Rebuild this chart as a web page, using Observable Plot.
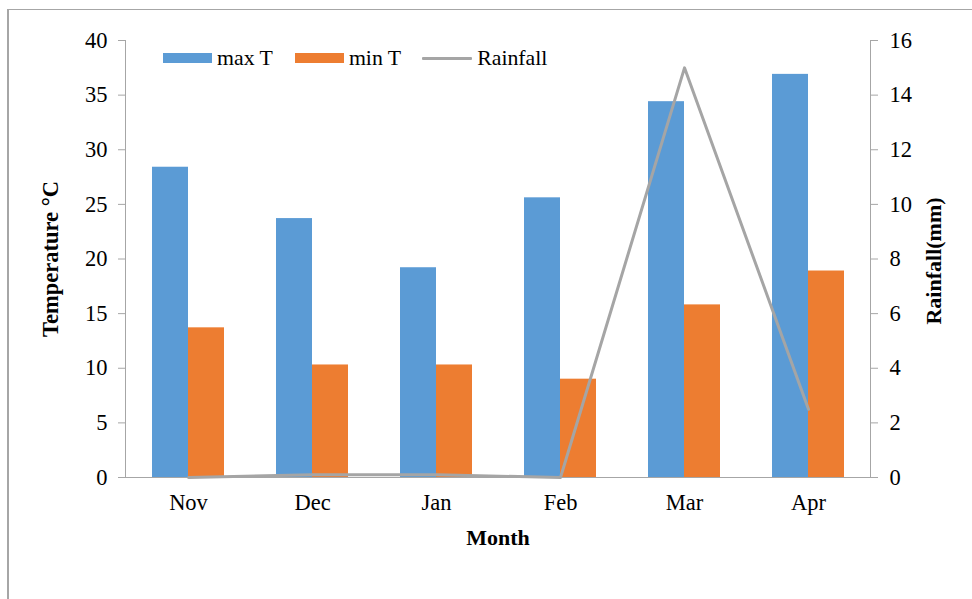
<!DOCTYPE html>
<html>
<head>
<meta charset="utf-8">
<script src="https://cdn.jsdelivr.net/npm/d3@7"></script>
<script src="https://cdn.jsdelivr.net/npm/@observablehq/plot@0.6"></script>
<style>
  body { margin: 0; background: #fff; }
  #wrap { position: relative; width: 972px; height: 599px; overflow: hidden; font-family: "Liberation Serif", "Times New Roman", serif; }
  #frame { position: absolute; left: 7px; top: 9px; width: 980px; height: 600px; border-top: 1px solid #a6a6a6; border-left: 2px solid #a6a6a6; pointer-events: none; }
  #legend { position: absolute; left: 163px; top: 46px; height: 24px; line-height: 24px; display: flex; align-items: center; font-size: 21.8px; color: #000; }
  .item { display: flex; align-items: center; }
  .sw { width: 49px; height: 10px; margin-right: 5px; }
  .ln { width: 50px; height: 3px; margin-right: 5px; border-radius: 1px; }
</style>
</head>
<body>
<div id="wrap">
  <div id="chart"></div>
  <div id="frame"></div>
  <div id="legend"></div>
</div>
<script>
const months = ["Nov", "Dec", "Jan", "Feb", "Mar", "Apr"];
const maxT = [28.4, 23.7, 19.2, 25.6, 34.4, 36.9];
const minT = [13.7, 10.3, 10.3, 9.0, 15.8, 18.9];
const rainfall = [0.0, 0.1, 0.1, 0.0, 15.0, 2.5];
const tempTicks = [0, 5, 10, 15, 20, 25, 30, 35, 40];
const rainTicks = [0, 2, 4, 6, 8, 10, 12, 14, 16];

const colors = { max: "#5B9BD5", min: "#ED7D31", rain: "#A5A5A5" };
const ratio = 40 / 16; // temperature units per mm

const data = months.map((m, i) => ({ month: m, maxT: maxT[i], minT: minT[i], rain: rainfall[i] }));

const FS = 22.5;
const chart = Plot.plot({
  width: 972,
  height: 599,
  marginLeft: 125,
  marginRight: 102,
  marginTop: 40,
  marginBottom: 122,
  style: { fontFamily: "Liberation Serif, Times New Roman, serif", fontSize: FS + "px", color: "#000", background: "transparent" },
  x: { domain: months, paddingInner: 0.42, paddingOuter: 0.21, label: null },
  y: { domain: [0, 40], label: null },
  marks: [
    Plot.barY(data, { x: "month", y: "maxT", fill: colors.max, insetRight: 36 }),
    Plot.barY(data, { x: "month", y: "minT", fill: colors.min, insetLeft: 36 }),
    Plot.frame({ anchor: "left", stroke: "#a6a6a6" }),
    Plot.frame({ anchor: "right", stroke: "#a6a6a6" }),
    Plot.frame({ anchor: "bottom", stroke: "#a6a6a6" }),
    Plot.line(data, { x: "month", y: d => d.rain * ratio, stroke: colors.rain, strokeWidth: 3 }),
    Plot.axisY(tempTicks, { anchor: "left", tickSize: 7, tickPadding: 11, stroke: "#a6a6a6", fill: "#000", fontSize: FS, label: null }),
    Plot.axisY(rainTicks.map(t => t * ratio), { anchor: "right", tickSize: 7, tickPadding: 12, tickFormat: d => d / ratio, stroke: "#a6a6a6", fill: "#000", fontSize: FS, label: null }),
    Plot.axisX({ tickSize: 0, tickPadding: 17, fill: "#000", fontSize: FS, label: null }),
    Plot.text(["Month"], { frameAnchor: "bottom", dy: 60, lineAnchor: "middle", textAnchor: "middle", fontWeight: "bold", fontSize: 22, fill: "#000" }),
    Plot.text(["Temperature °C"], { frameAnchor: "left", dx: -75, rotate: -90, textAnchor: "middle", lineAnchor: "middle", fontWeight: "bold", fontSize: 22.5, fill: "#000" }),
    Plot.text(["Rainfall(mm)"], { frameAnchor: "right", dx: 63, dy: 2, rotate: -90, textAnchor: "middle", lineAnchor: "middle", fontWeight: "bold", fontSize: 22, fill: "#000" })
  ]
});
document.getElementById("chart").appendChild(chart);

const legendItems = [
  { label: "max T", color: colors.max, type: "sw", gap: 22 },
  { label: "min T", color: colors.min, type: "sw", gap: 21 },
  { label: "Rainfall", color: colors.rain, type: "ln", gap: 0 }
];
const legend = document.getElementById("legend");
for (const it of legendItems) {
  const item = document.createElement("div");
  item.className = "item";
  item.style.marginRight = it.gap + "px";
  const s = document.createElement("span");
  s.className = it.type;
  s.style.background = it.color;
  const t = document.createElement("span");
  t.textContent = it.label;
  item.appendChild(s);
  item.appendChild(t);
  legend.appendChild(item);
}
</script>
</body>
</html>
